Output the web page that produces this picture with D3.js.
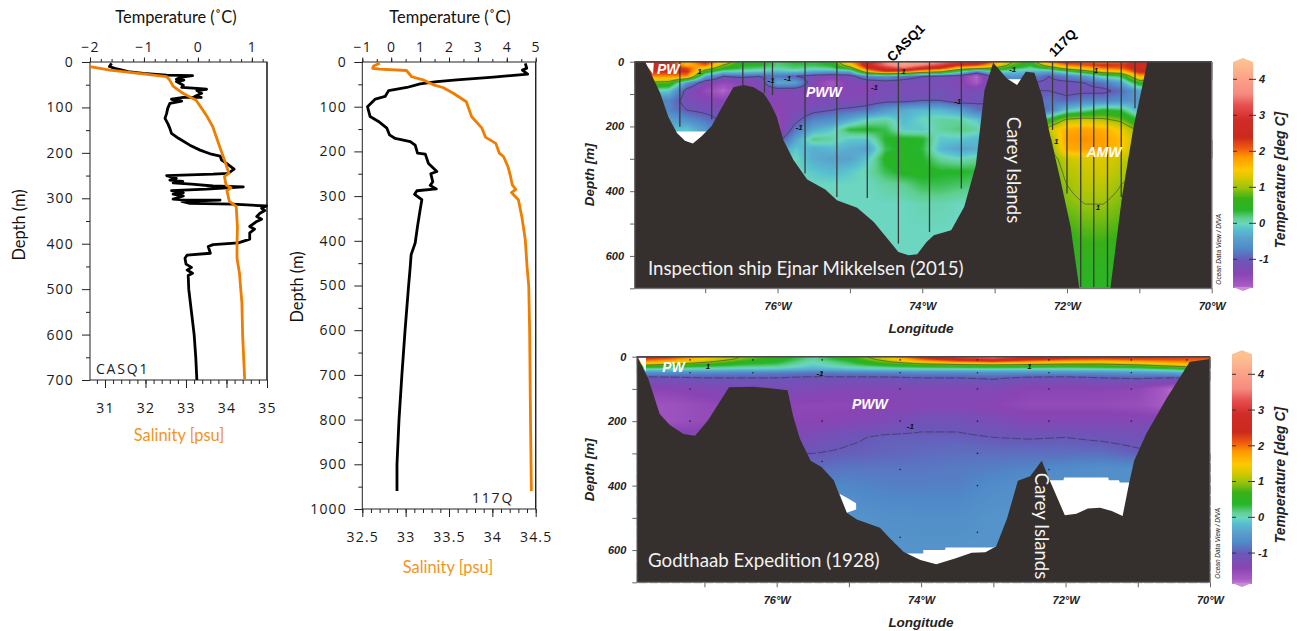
<!DOCTYPE html>
<html>
<head>
<meta charset="utf-8">
<script src="https://cdn.jsdelivr.net/npm/d3@7"></script>
<style>
body { margin: 0; background: #fff; }
svg { display: block; }
.prof text { font-family: "Open Sans", sans-serif; font-size: 14px; letter-spacing: 1.2px; fill: #1a1a1a; }
.prof .domain { display: none; }
.prof line { stroke: #222; }
.ttl { font-family: Lato, sans-serif; font-size: 16.4px; fill: #111; }
.sal { fill: #f2941f; }
.sec text { font-family: "Liberation Sans", sans-serif; font-weight: bold; font-style: italic; font-size: 11px; fill: #222; }
.sec .domain { display: none; }
.sec .tick line { stroke: #666; }
</style>
</head>
<body>
<svg id="chart" width="1301" height="631"></svg>
<script>
// CASQ1 profile, [depth, temperature] and [depth, salinity]
var casqTemp = [[3,-1.60],[10,-1.64],[14,-1.54],[21,-1.29],[25,-1.01],[29,-0.58],[30,-0.10],[34,-0.33],[38,-0.40],[40,-0.26],[43,-0.40],[51,-0.27],[56,-0.30],[58,-0.02],[60,0.16],[63,-0.02],[69,0.07],[76,-0.06],[78,0.06],[78,-0.27],[82,-0.49],[86,-0.30],[91,-0.52],[102,-0.56],[113,-0.58],[124,-0.61],[135,-0.56],[146,-0.52],[157,-0.49],[168,-0.36],[183,-0.15],[194,0.04],[203,0.25],[207,0.41],[216,0.44],[223,0.53],[236,0.67],[245,0.56],[247,0.28],[250,-0.58],[256,-0.40],[260,-0.52],[263,-0.28],[266,-0.46],[269,-0.12],[273,0.28],[275,0.84],[280,0.16],[283,-0.49],[288,-0.27],[291,-0.46],[295,-0.27],[302,-0.46],[304,-0.21],[304,0.41],[307,-0.30],[311,-0.15],[313,0.65],[317,1.27],[322,1.18],[327,1.24],[333,1.15],[340,1.09],[346,1.18],[351,1.09],[362,0.96],[368,1.05],[376,0.96],[390,0.96],[398,0.75],[402,0.28],[406,0.19],[421,0.23],[425,-0.20],[432,-0.24],[445,-0.22],[452,-0.12],[458,-0.20],[465,-0.10],[470,-0.18],[500,-0.17],[550,-0.12],[600,-0.07],[650,-0.04],[700,-0.02]];
var casqSal = [[10,30.63],[18,31.12],[23,31.61],[26,31.94],[32,32.52],[40,32.60],[53,32.68],[67,32.89],[84,33.25],[117,33.50],[142,33.66],[186,33.83],[216,33.95],[245,34.06],[252,33.95],[271,33.99],[277,34.11],[283,34.01],[307,34.07],[318,34.24],[363,34.27],[399,34.26],[432,34.26],[465,34.32],[531,34.38],[605,34.40],[700,34.45]];
// 117Q profile
var q117Temp = [[3,4.64],[14,4.69],[18,4.54],[27,4.72],[34,3.54],[40,2.27],[44,1.58],[49,1.00],[57,0.54],[64,-0.09],[77,-0.21],[83,-0.55],[100,-0.82],[122,-0.73],[133,-0.44],[148,-0.15],[163,-0.06],[171,0.14],[178,0.66],[186,0.83],[204,0.91],[206,1.18],[227,1.29],[245,1.58],[250,1.37],[268,1.44],[276,1.35],[284,1.56],[288,0.89],[296,0.81],[308,1.06],[331,1.00],[368,0.91],[405,0.83],[431,0.69],[457,0.66],[502,0.60],[600,0.48],[700,0.37],[800,0.27],[900,0.20],[960,0.20]];
var q117Sal = [[3,32.70],[9,32.63],[14,32.62],[16,32.70],[19,33.01],[33,33.07],[40,33.20],[51,33.32],[57,33.43],[70,33.55],[89,33.70],[122,33.76],[148,33.88],[168,33.92],[182,34.04],[204,34.08],[212,34.13],[234,34.18],[256,34.21],[275,34.23],[285,34.27],[292,34.22],[308,34.30],[346,34.34],[398,34.38],[457,34.40],[502,34.42],[600,34.43],[800,34.44],[960,34.45]];

// colour bar stops (deg C -> colour)
var barValues = [-1.9,-1.72,-1.4,-1.0,-0.7,-0.4,-0.15,0,0.15,0.38,0.7,1.0,1.25,1.5,1.85,2.1,2.4,2.9,3.3,3.6,4.0,4.5];
var barColors = ["#c98ad6","#a85cc4","#8a44b4","#6a58b8","#5088c8","#5aa0cc","#58c0d0","#6cd6c0","#60cf90","#26b52a","#38b018","#9cc40c","#d4c800","#ffc800","#ff9a00","#f05a10","#cc2a1c","#d02c28","#e85050","#f58a80","#fba088","#fdc090"];

// 2015 section
var lon2015 = [-77.75,-77.5,-77.25,-77,-76.75,-76.5,-76.25,-76,-75.75,-75.5,-75.25,-75,-74.75,-74.5,-74.25,-74,-73.75,-73.5,-73.25,-73,-72.75,-72.5,-72.25,-72,-71.75,-71.5,-71.25,-71];
var depth2015 = [0,10,20,30,45,65,90,120,150,180,210,240,270,300,340,380,440,520,600,700];
var temp2015 = [
[2.6,2.3,1.6,2.5,1.5,0.5,0.5,0.2,0.4,0.3,0.5,1.8,2.6,3.6,4.2,4.0,3.6,3.2,3.0,2.0,1.0,0.6,2.0,2.5,2.2,1.9,2.1,2.5],
[2.6,2.5,1.6,2.1,1.0,0.4,0.4,0.2,0.3,0.3,0.4,1.4,2.8,3.5,4.0,3.6,3.2,2.5,2.3,1.6,0.8,0.4,1.4,2.0,2.2,2.4,2.3,2.6],
[2.5,2.5,2.2,1.4,0.6,0.3,0.2,0.1,0.2,0.1,0.2,0.7,2.4,3.0,3.4,2.8,2.4,1.5,1.2,0.9,0.4,0.1,0.5,1.3,1.6,2.0,2.1,2.6],
[2.4,2.4,2.4,0.7,0.0,0.0,-0.1,-0.2,-0.1,-0.3,-0.4,-0.3,1.6,2.4,2.2,1.5,1.2,0.3,-0.6,0.1,-0.1,-0.2,-0.3,0.2,0.8,1.3,1.5,2.5],
[1.9,1.9,1.9,-0.3,-1.0,-0.9,-1.0,-0.8,-1.0,-1.2,-1.3,-1.2,-0.6,-0.5,-0.8,-1.0,-1.1,-1.2,-1.8,-0.8,-0.5,-0.6,-1.0,-0.7,-0.5,0.1,0.3,1.7],
[0.9,0.8,-0.5,-1.3,-1.5,-1.4,-1.3,-0.3,-0.4,-1.3,-1.7,-1.3,-1.3,-1.2,-1.2,-1.2,-1.2,-1.3,-1.7,-1.0,-0.9,-1.0,-1.1,-1.1,-1.0,-0.8,-0.4,0.6],
[0.0,-0.1,-1.2,-1.5,-1.8,-1.4,-1.3,-1.3,-1.3,-1.4,-1.5,-1.3,-1.4,-1.2,-1.2,-1.2,-1.1,-1.2,-1.2,-1.0,-0.9,-1.0,-1.0,-1.1,-1.1,-1.1,-0.9,-0.4],
[-0.7,-0.7,-1.2,-1.3,-1.4,-1.3,-1.3,-1.4,-1.3,-1.3,-1.2,-1.3,-1.2,-1.1,-1.1,-1.0,-1.0,-1.2,-1.1,-1.0,-0.9,-0.9,-0.8,-0.9,-0.7,-0.7,-0.6,-0.5],
[-0.6,-0.7,-1.0,-1.1,-1.2,-1.3,-1.3,-1.4,-1.3,-1.1,-1.0,-0.9,-0.8,-0.5,-0.3,-0.2,-0.2,-0.4,-0.8,-1.0,-1.0,-1.0,-0.8,-0.1,0.1,0.4,0.3,-0.3],
[-0.5,-0.4,-0.6,-0.8,-1.1,-1.3,-1.4,-1.5,-1.1,-0.7,-0.6,-0.3,0.0,0.1,-0.2,0.0,0.1,0.1,-0.1,-0.5,-0.5,-0.3,0.5,1.1,1.2,1.1,0.9,0.3],
[-0.2,-0.2,-0.1,-0.5,-1.0,-1.3,-1.4,-1.6,-0.8,-0.3,-0.1,0.35,0.4,0.3,-0.1,-0.1,0.1,0.2,0.1,-0.2,-0.2,0.0,1.2,1.7,1.8,1.7,1.4,0.9],
[-0.2,-0.2,-0.1,-0.4,-0.8,-1.0,-1.1,-1.2,-0.4,0.2,0.1,-0.1,-0.1,0.4,0.45,0.4,-0.1,-0.1,-0.2,-0.2,-0.2,0.1,0.9,1.8,1.9,1.8,1.6,1.0],
[-0.2,-0.2,-0.1,-0.3,-0.5,-0.7,-0.7,-0.6,-0.1,-0.3,-0.2,-0.3,-0.4,0.3,0.45,0.35,-0.2,-0.4,-0.3,-0.3,-0.3,0.2,0.8,1.7,1.8,1.8,1.5,1.0],
[-0.1,-0.1,-0.1,-0.1,-0.1,-0.1,-0.1,-0.1,0.0,-0.3,-0.4,-0.4,-0.1,0.45,0.45,0.4,0.1,0.0,0.1,0.1,0.1,0.4,0.8,1.2,1.3,1.3,1.2,1.0],
[0.0,0.0,0.0,0.0,0.0,0.0,0.0,0.0,0.0,-0.1,-0.2,-0.1,0.05,0.3,0.45,0.45,0.4,0.4,0.35,0.3,0.3,0.4,0.7,1.1,1.2,1.25,1.1,0.9],
[0.0,0.0,0.0,0.0,0.0,0.0,0.0,0.0,0.0,0.0,0.0,0.0,0.0,0.1,0.15,0.3,0.3,0.25,0.2,0.2,0.2,0.4,0.7,1.0,1.15,1.15,1.0,0.9],
[0.0,0.0,0.0,0.0,0.0,0.0,0.0,0.0,0.0,0.0,0.0,0.0,0.0,0.0,0.0,0.05,0.05,0.0,0.0,0.0,0.0,0.4,0.7,0.9,1.0,1.0,0.9,0.8],
[0.0,0.0,0.0,0.0,0.0,0.0,0.0,0.0,0.0,0.0,0.0,0.0,0.0,0.0,0.0,0.0,0.0,0.0,0.0,0.0,0.0,0.4,0.6,0.7,0.8,0.8,0.75,0.7],
[0.0,0.0,0.0,0.0,0.0,0.0,0.0,0.0,0.0,0.0,0.0,0.0,0.0,0.0,0.0,0.0,0.0,0.0,0.0,0.0,0.0,0.4,0.5,0.55,0.6,0.6,0.55,0.5],
[0.0,0.0,0.0,0.0,0.0,0.0,0.0,0.0,0.0,0.0,0.0,0.0,0.0,0.0,0.0,0.0,0.0,0.0,0.0,0.0,0.0,0.4,0.45,0.45,0.45,0.45,0.45,0.45]
];
var land2015 = [[-77.97,0],[-77.83,0],[-77.74,41],[-77.62,98],[-77.51,170],[-77.39,220],[-77.28,244],[-77.17,253],[-77.05,230],[-76.91,199],[-76.79,149],[-76.61,79],[-76.47,72],[-76.33,79],[-76.19,98],[-76.10,129],[-76.01,170],[-75.92,242],[-75.78,304],[-75.59,364],[-75.34,395],[-75.18,428],[-74.90,451],[-74.67,495],[-74.33,588],[-74.19,598],[-74.07,595],[-73.94,557],[-73.84,536],[-73.60,521],[-73.42,448],[-73.26,320],[-73.14,88],[-73.02,3],[-72.83,52],[-72.69,72],[-72.57,31],[-72.45,34],[-72.34,108],[-72.25,211],[-72.09,366],[-71.95,510],[-71.83,700],[-71.40,700],[-71.24,418],[-71.08,201],[-70.98,98],[-70.89,0],[-70,0]];
var gaps2015 = [
[[-77.84,3],[-77.72,38],[-77.71,3]],
[[-77.42,216],[-76.96,216],[-76.96,300],[-77.42,300]],
[[-72.83,54],[-72.63,54],[-72.63,100],[-72.83,100]]
];
var stationLon2015 = [-77.35,-76.91,-76.48,-76.18,-76.07,-75.62,-75.18,-74.76,-74.33,-73.90,-73.46,-72.2,-72.0,-71.81,-71.63,-71.44,-71.25,-71.06];
var stationBottom2015 = [201,178,72,96,103,345,418,421,562,526,392,211,407,696,696,696,418,144];
var contourLabels2015 = [["1",-77.08,29],["-1",-76.09,57],["-1",-75.86,50],["1",-74.26,28],["-1",-75.7,203],["-1",-74.66,79],["-1",-72.75,24],["-1",-73.51,121],["1",-71.6,26],["1",-72.15,245],["1",-71.57,450]];

// 1928 section
var lon1928 = [-78,-77.5,-77,-76.5,-76,-75.5,-75,-74.5,-74,-73.5,-73,-72.5,-72,-71.5,-71,-70.5,-70];
var depth1928 = [0,8,16,24,32,40,50,65,100,150,200,250,300,350,400,500,600,700];
var temp1928 = [
[2.7,2.4,1.6,1.0,0.6,0.1,0.6,1.4,2.4,3.3,3.8,2.8,2.6,2.5,2.4,2.3,2.2],
[2.3,2.0,1.4,0.9,0.5,0.1,0.5,1.2,2.1,2.7,3.0,2.5,2.2,2.1,2.2,2.2,2.1],
[1.9,1.6,1.1,0.6,0.4,0.0,0.3,0.9,1.5,1.9,2.1,1.8,1.6,1.5,1.7,1.9,2.0],
[1.3,1.0,0.6,0.35,0.25,-0.05,0.2,0.5,0.8,1.0,1.1,1.0,0.9,0.9,1.1,1.4,1.8],
[0.5,0.4,0.25,0.15,0.1,-0.15,0.05,0.2,0.35,0.4,0.45,0.4,0.35,0.4,0.5,0.8,1.2],
[0.0,-0.1,-0.1,-0.2,-0.2,-0.35,-0.2,-0.15,-0.1,-0.1,-0.05,-0.1,-0.1,-0.05,0.0,0.2,0.5],
[-0.6,-0.6,-0.65,-0.7,-0.75,-0.8,-0.75,-0.7,-0.65,-0.65,-0.6,-0.6,-0.6,-0.6,-0.5,-0.4,0.0],
[-1.1,-1.05,-1.0,-1.0,-1.0,-1.05,-1.05,-1.05,-1.0,-1.0,-0.95,-1.05,-1.08,-1.0,-0.95,-1.0,-0.8],
[-1.4,-1.4,-1.3,-1.25,-1.2,-1.25,-1.3,-1.3,-1.3,-1.3,-1.3,-1.4,-1.4,-1.4,-1.45,-1.8,-1.5],
[-1.6,-1.6,-1.5,-1.4,-1.4,-1.45,-1.45,-1.4,-1.35,-1.35,-1.4,-1.5,-1.5,-1.5,-1.55,-1.75,-1.5],
[-1.55,-1.6,-1.5,-1.4,-1.4,-1.4,-1.35,-1.25,-1.1,-1.1,-1.2,-1.3,-1.3,-1.3,-1.3,-1.3,-1.3],
[-1.3,-1.3,-1.3,-1.3,-1.3,-1.2,-1.05,-0.95,-0.95,-0.95,-1.0,-1.02,-1.0,-1.05,-1.1,-1.1,-1.1],
[-1.0,-1.0,-1.0,-1.0,-1.0,-1.0,-0.95,-0.92,-0.88,-0.85,-0.85,-0.85,-0.85,-0.85,-0.95,-1.0,-1.0],
[-0.9,-0.9,-0.9,-0.9,-0.9,-0.85,-0.8,-0.8,-0.8,-0.78,-0.75,-0.7,-0.65,-0.6,-0.6,-0.6,-0.6],
[-0.75,-0.75,-0.75,-0.75,-0.75,-0.7,-0.7,-0.75,-0.75,-0.75,-0.65,-0.6,-0.6,-0.6,-0.6,-0.6,-0.6],
[-0.55,-0.55,-0.55,-0.55,-0.55,-0.55,-0.55,-0.6,-0.62,-0.62,-0.55,-0.55,-0.55,-0.55,-0.55,-0.55,-0.55],
[-0.55,-0.55,-0.55,-0.55,-0.55,-0.55,-0.55,-0.55,-0.55,-0.55,-0.55,-0.55,-0.55,-0.55,-0.55,-0.55,-0.55],
[-0.55,-0.55,-0.55,-0.55,-0.55,-0.55,-0.55,-0.55,-0.55,-0.55,-0.55,-0.55,-0.55,-0.55,-0.55,-0.55,-0.55]
];
var land1928 = [[-77.93,0],[-77.92,5],[-77.78,67],[-77.62,178],[-77.48,212],[-77.29,240],[-77.13,245],[-76.95,197],[-76.66,95],[-76.32,93],[-76.09,98],[-75.85,104],[-75.77,186],[-75.68,254],[-75.53,323],[-75.38,342],[-75.21,383],[-75.13,430],[-75.03,484],[-74.89,505],[-74.57,531],[-74.43,564],[-74.24,606],[-74.01,631],[-73.79,644],[-73.53,626],[-73.30,608],[-73.11,607],[-72.96,588],[-72.81,502],[-72.66,385],[-72.49,371],[-72.33,323],[-72.22,383],[-72.01,492],[-71.85,487],[-71.69,471],[-71.52,469],[-71.36,479],[-71.21,494],[-71.12,393],[-71.05,323],[-70.88,238],[-70.6,129],[-70.28,16],[-70.02,8],[-70,0]];
var gaps1928 = [
[[-77.92,3],[-77.81,3],[-77.81,46]],
[[-75.13,425],[-75.01,440],[-74.9,455],[-74.9,474],[-75.03,484]],
[[-74.22,611],[-73.97,611],[-73.97,600],[-73.67,600],[-73.66,592],[-73.01,592],[-72.96,588],[-72.96,700],[-74.22,700]],
[[-72.22,383],[-72.03,383],[-72.02,375],[-71.41,375],[-71.4,383],[-71.26,383],[-71.25,390],[-71.12,390],[-71.12,520],[-72.22,520]]
];
var bottleLon1928 = [-77.2,-76.33,-75.37,-74.29,-73.22,-72.23,-71.09,-70.32];
var bottleDepths1928 = [[10,50,100,200],[10,50,100,200],[10,50,200,325],[10,50,100,200,350,560],[10,50,100,200,300,400,545],[10,50,100,200,350],[10,50,100,200],[10]];
var contourLabels1928 = [["1",-76.95,28],["-1",-75.4,52],["-1",-74.15,217],["1",-72.5,29]];

var svg = d3.select("#chart");
var tempColor = d3.scaleLinear().domain(barValues).range(barColors).interpolate(d3.interpolateRgb).clamp(true);

// ---- profile panels ----
function drawProfile(o) {
    var g = svg.append("g").attr("class", "prof");
    var y = d3.scaleLinear().domain([0, o.maxDepth]).range([62, o.bottom]);
    var xT = d3.scaleLinear().domain(o.tempDomain).range([o.left, o.right]);
    var xS = d3.scaleLinear().domain(o.salDomain).range([o.left, o.right]);

    g.append("g").attr("transform", "translate(" + o.left + ",0)")
        .call(d3.axisLeft(y).tickValues(d3.range(50, o.maxDepth, 100)).tickSize(4).tickFormat(""));
    g.append("g").attr("transform", "translate(" + o.left + ",0)")
        .call(d3.axisLeft(y).tickValues(d3.range(0, o.maxDepth + 1, 100)).tickSize(o.left - o.depthLabelEnd).tickPadding(0).tickFormat(d3.format("d")))
        .selectAll("line").attr("x2", -8);

    g.append("g").attr("transform", "translate(0,62)")
        .call(d3.axisTop(xT).tickValues(o.tempMinor).tickSize(3).tickFormat(""));
    g.append("g").attr("transform", "translate(0,62)")
        .call(d3.axisTop(xT).tickValues(o.tempTicks).tickSize(4.5).tickPadding(6).tickFormat(function (d) { return String(d).replace("-", "\u2212"); }));

    g.append("g").attr("transform", "translate(0," + o.bottom + ")")
        .call(d3.axisBottom(xS).tickValues(o.salMinor).tickSize(4).tickFormat(""));
    g.append("g").attr("transform", "translate(0," + o.bottom + ")")
        .call(d3.axisBottom(xS).tickValues(o.salTicks).tickSize(8).tickPadding(15).tickFormat(function (d) { return d; }));

    g.append("rect").attr("x", o.left).attr("y", 62).attr("width", o.right - o.left).attr("height", o.bottom - 62)
        .attr("fill", "none").attr("stroke", "#222").attr("stroke-width", 1);
    g.append("line").attr("x1", o.right).attr("x2", o.right).attr("y1", 62).attr("y2", o.bottom)
        .attr("stroke", o.rightColor).attr("stroke-width", 1.2);

    var lineT = d3.line().x(function (d) { return xT(d[1]); }).y(function (d) { return y(d[0]); });
    var lineS = d3.line().x(function (d) { return xS(d[1]); }).y(function (d) { return y(d[0]); });
    g.append("path").attr("d", lineT(o.temp)).attr("fill", "none").attr("stroke", "#000").attr("stroke-width", 2.8).attr("stroke-linejoin", "round");
    g.append("path").attr("d", lineS(o.sal)).attr("fill", "none").attr("stroke", "#f07d00").attr("stroke-width", 2.8).attr("stroke-linejoin", "round");

    g.append("text").attr("x", o.tagX).attr("y", o.tagY).style("letter-spacing", "1.8px").text(o.tag);

    var t = svg.append("g");
    t.append("text").attr("class", "ttl").attr("text-anchor", "middle").attr("x", o.tempTitleX).attr("y", 23).text("Temperature (\u02DAC)");
    t.append("text").attr("class", "ttl sal").attr("text-anchor", "middle").attr("x", o.salTitleX).attr("y", o.salTitleY).text("Salinity [psu]");
    t.append("text").attr("class", "ttl").attr("text-anchor", "middle")
        .attr("transform", "translate(" + o.depthTitleX + "," + o.depthTitleY + ") rotate(-90)").text("Depth (m)");
}

drawProfile({
    left: 90, right: 267, bottom: 380, maxDepth: 700, depthLabelEnd: 74,
    tempDomain: [-2, 1.28], salDomain: [30.63, 35],
    tempTicks: [-2, -1, 0, 1], tempMinor: d3.range(-2, 1.21, 0.2),
    salTicks: [31, 32, 33, 34, 35], salMinor: d3.range(30.8, 35, 0.2),
    temp: casqTemp, sal: casqSal, rightColor: "#222",
    tag: "CASQ1", tagX: 96, tagY: 374,
    tempTitleX: 176, salTitleX: 179, salTitleY: 441, depthTitleX: 25, depthTitleY: 225
});
drawProfile({
    left: 362.3, right: 535.7, bottom: 509, maxDepth: 1000, depthLabelEnd: 347,
    tempDomain: [-1, 5], salDomain: [32.5, 34.5],
    tempTicks: [-1, 0, 1, 2, 3, 4, 5], tempMinor: d3.range(-1, 5.01, 0.5),
    salTicks: [32.5, 33, 33.5, 34, 34.5], salMinor: d3.range(32.5, 34.51, 0.1),
    temp: q117Temp, sal: q117Sal, rightColor: "#777",
    tag: "117Q", tagX: 472, tagY: 503,
    tempTitleX: 450, salTitleX: 448, salTitleY: 573, depthTitleX: 303, depthTitleY: 287
});

// ---- section panels ----
function fieldLookup(lons, depths, rows) {
    function cell(arr, v) {
        var i = d3.bisectRight(arr, v) - 1;
        if (i < 0) return [0, 0, 0];
        if (i >= arr.length - 1) return [arr.length - 1, arr.length - 1, 0];
        return [i, i + 1, (v - arr[i]) / (arr[i + 1] - arr[i])];
    }
    return function (lon, depth) {
        var a = cell(lons, lon), b = cell(depths, depth);
        var top = rows[b[0]][a[0]] * (1 - a[2]) + rows[b[0]][a[1]] * a[2];
        var low = rows[b[1]][a[0]] * (1 - a[2]) + rows[b[1]][a[1]] * a[2];
        return top * (1 - b[2]) + low * b[2];
    };
}

function drawSection(o) {
    var g = svg.append("g").attr("class", "sec");
    var x = d3.scaleLinear().domain(o.lonDomain).range([o.left, o.right]);
    var y = d3.scaleLinear().domain([0, 700]).range([o.top, o.bottom]);
    var w = Math.round(o.right - o.left), h = Math.round(o.bottom - o.top);
    var lookup = fieldLookup(o.lons, o.depths, o.temps);

    // colour field, through the same scales as the axes
    var canvas = document.createElement("canvas");
    canvas.width = w; canvas.height = h;
    var ctx = canvas.getContext("2d");
    var img = ctx.createImageData(w, h);
    var grid = new Array(w * h);
    for (var j = 0; j < h; j++) {
        for (var i = 0; i < w; i++) {
            var v = lookup(x.invert(o.left + i + 0.5), y.invert(o.top + j + 0.5));
            grid[j * w + i] = v;
            var c = d3.rgb(tempColor(v)), k = (j * w + i) * 4;
            img.data[k] = c.r; img.data[k + 1] = c.g; img.data[k + 2] = c.b; img.data[k + 3] = 255;
        }
    }
    ctx.putImageData(img, 0, 0);
    g.append("image").attr("x", o.left).attr("y", o.top).attr("width", o.right - o.left).attr("height", o.bottom - o.top)
        .attr("preserveAspectRatio", "none").attr("href", canvas.toDataURL());

    // isotherms
    var contours = d3.contours().size([w, h]).thresholds([-1, 1])(grid);
    g.append("g").attr("transform", "translate(" + o.left + "," + o.top + ")")
        .selectAll("path").data(contours).enter().append("path")
        .attr("d", d3.geoPath())
        .attr("fill", "none").attr("stroke", "#2b2b3a").attr("stroke-opacity", 0.8).attr("stroke-width", 0.7)
        .attr("stroke-dasharray", function (d) { return d.value < 0 ? o.dash : null; });

    // no-data patches
    var poly = d3.line().x(function (d) { return x(d[0]); }).y(function (d) { return y(d[1]); });
    g.selectAll(".gap").data(o.gaps).enter().append("path").attr("class", "gap")
        .attr("d", function (d) { return poly(d) + "Z"; }).attr("fill", "#fff");

    // stations
    if (o.stationLon) {
        g.selectAll(".st").data(o.stationLon).enter().append("line").attr("class", "st")
            .attr("x1", function (d) { return x(d); }).attr("x2", function (d) { return x(d); })
            .attr("y1", y(0)).attr("y2", function (d, i) { return y(o.stationBottom[i]); })
            .attr("stroke", "#3a3a3a").attr("stroke-width", 1.3);
    }
    if (o.bottleLon) {
        o.bottleLon.forEach(function (lon, i) {
            g.selectAll(".b" + i).data(o.bottleDepths[i]).enter().append("circle").attr("class", "b" + i)
                .attr("cx", x(lon)).attr("cy", function (d) { return y(d); }).attr("r", 0.8).attr("fill", "#222");
        });
    }

    // contour labels
    g.selectAll(".cl").data(o.contourLabels).enter().append("text").attr("class", "cl")
        .attr("x", function (d) { return x(d[1]); }).attr("y", function (d) { return y(d[2]); })
        .attr("text-anchor", "middle").attr("dy", "0.35em").style("font-size", "8px").style("fill", "#111").text(function (d) { return d[0]; });

    // land
    var area = d3.area().x(function (d) { return x(d[0]); }).y0(o.bottom).y1(function (d) { return y(d[1]); });
    g.append("path").attr("d", area(o.land)).attr("fill", "#352f2d");

    // axes and frame
    g.append("g").attr("transform", "translate(" + o.left + ",0)")
        .call(d3.axisLeft(y).tickValues(d3.range(0, 701, 100)).tickSize(5).tickPadding(6)
            .tickFormat(function (d) { return d % 200 === 0 && d < 700 ? d : ""; }));
    g.append("g").attr("transform", "translate(0," + o.bottom + ")")
        .call(d3.axisBottom(x).tickValues([-77, -76, -75, -74, -73, -72, -71, -70]).tickSize(5).tickPadding(9)
            .tickFormat(function (d) { return d % 2 === 0 ? Math.abs(d) + "\u00B0W" : ""; }));
    g.append("path").attr("d", "M" + o.left + "," + o.bottom + "V" + o.top + "H" + o.right)
        .attr("fill", "none").attr("stroke", "#4a4a4a").attr("stroke-width", 1.4);
    g.append("path").attr("d", "M" + o.left + "," + o.bottom + "H" + o.right + "V" + o.top)
        .attr("fill", "none").attr("stroke", "#777").attr("stroke-width", 1);

    g.append("text").attr("text-anchor", "middle").attr("x", 921).attr("y", o.bottom + 45).style("font-size", "13.5px").text("Longitude");
    g.append("text").attr("text-anchor", "middle").style("font-size", "13.5px")
        .attr("transform", "translate(594," + (o.top + 113) + ") rotate(-90)").text("Depth [m]");
    g.append("text").attr("text-anchor", "middle").style("font-size", "6.5px").style("font-weight", "normal")
        .attr("transform", "translate(" + (o.right + 9.5) + "," + (o.bottom - 39) + ") rotate(-90)").text("Ocean Data View / DIVA");

    // water masses and section names
    g.selectAll(".wm").data(o.waterMasses).enter().append("text").attr("class", "wm")
        .attr("x", function (d) { return x(d[1]); }).attr("y", function (d) { return y(d[2]); })
        .attr("text-anchor", "middle").attr("dy", "0.35em").style("font-size", "14px").style("fill", "#fff").text(function (d) { return d[0]; });
    svg.append("text").attr("class", "ttl").attr("x", 648).attr("y", o.nameY).style("font-size", "18.7px").style("fill", "#f2f2f2").text(o.name);
    svg.append("text").attr("class", "ttl").attr("text-anchor", "middle").style("font-size", "18.5px").style("fill", "#f2f2f2")
        .attr("transform", "translate(" + o.careyX + "," + o.careyY + ") rotate(90)").text("Carey Islands");

    // colour bar, one strip per pixel
    var bar = svg.append("g").attr("class", "sec");
    var cy = d3.scaleLinear().domain([0, 4]).range([o.barZero, o.barFour]);
    var px = d3.range(Math.round(cy(o.barMax)), Math.round(cy(o.barMin)));
    bar.selectAll(".s").data(px).enter().append("rect").attr("class", "s")
        .attr("x", o.barX).attr("width", 20).attr("y", function (d) { return d; }).attr("height", 1.5)
        .attr("shape-rendering", "crispEdges").attr("fill", function (d) { return tempColor(cy.invert(d)); });
    bar.append("path").attr("d", "M" + o.barX + "," + cy(o.barMax) + "L" + (o.barX + 10) + "," + (cy(o.barMax) - 4) + "L" + (o.barX + 20) + "," + cy(o.barMax) + "Z").attr("fill", tempColor(4.5));
    bar.append("path").attr("d", "M" + o.barX + "," + cy(o.barMin) + "L" + (o.barX + 10) + "," + (cy(o.barMin) + 4) + "L" + (o.barX + 20) + "," + cy(o.barMin) + "Z").attr("fill", tempColor(-1.9));
    var ticks = [-1, 0, 1, 2, 3, 4];
    bar.selectAll(".tl").data(ticks).enter().append("line").attr("class", "tl")
        .attr("x1", o.barX).attr("x2", o.barX + 4).attr("y1", function (d) { return cy(d); }).attr("y2", function (d) { return cy(d); }).attr("stroke", "#333");
    bar.selectAll(".tr").data(ticks).enter().append("line").attr("class", "tr")
        .attr("x1", o.barX + 16).attr("x2", o.barX + 23).attr("y1", function (d) { return cy(d); }).attr("y2", function (d) { return cy(d); }).attr("stroke", "#333");
    bar.selectAll(".lb").data(ticks).enter().append("text").attr("class", "lb")
        .attr("x", o.barX + 26).attr("y", function (d) { return cy(d); }).attr("dy", "0.35em").text(function (d) { return d; });
    bar.append("text").attr("text-anchor", "middle").style("font-size", "14px")
        .attr("transform", "translate(1285," + o.barTitleY + ") rotate(-90)").text("Temperature [deg C]");
}

drawSection({
    left: 635, right: 1211.7, top: 61.7, bottom: 288.3, lonDomain: [-77.97, -70],
    lons: lon2015, depths: depth2015, temps: temp2015, land: land2015, gaps: gaps2015,
    stationLon: stationLon2015, stationBottom: stationBottom2015, contourLabels: contourLabels2015, dash: null,
    waterMasses: [["PW", -77.51, 23], ["PWW", -75.36, 94], ["AMW", -71.49, 278]],
    name: "Inspection ship Ejnar Mikkelsen (2015)", nameY: 275, careyX: 1007, careyY: 170,
    barX: 1233, barZero: 223.3, barFour: 79.3, barMin: -1.77, barMax: 4.48, barTitleY: 180
});
drawSection({
    left: 637.3, right: 1210, top: 356.7, bottom: 582.3, lonDomain: [-77.93, -70],
    lons: lon1928, depths: depth1928, temps: temp1928, land: land1928, gaps: gaps1928,
    bottleLon: bottleLon1928, bottleDepths: bottleDepths1928, contourLabels: contourLabels1928, dash: "9,2",
    waterMasses: [["PW", -77.43, 33], ["PWW", -74.71, 148]],
    name: "Godthaab Expedition (1928)", nameY: 567, careyX: 1035, careyY: 526,
    barX: 1232, barZero: 517.3, barFour: 374.3, barMin: -1.84, barMax: 4.56, barTitleY: 475
});

// station names above the 2015 section
svg.append("text").attr("transform", "translate(909,46) rotate(-45)").attr("text-anchor", "middle")
    .style("font", "bold 13.5px 'Liberation Sans', sans-serif").text("CASQ1");
svg.append("text").attr("transform", "translate(1066,46) rotate(-45)").attr("text-anchor", "middle")
    .style("font", "bold 13.5px 'Liberation Sans', sans-serif").text("117Q");
</script>
</body>
</html>
